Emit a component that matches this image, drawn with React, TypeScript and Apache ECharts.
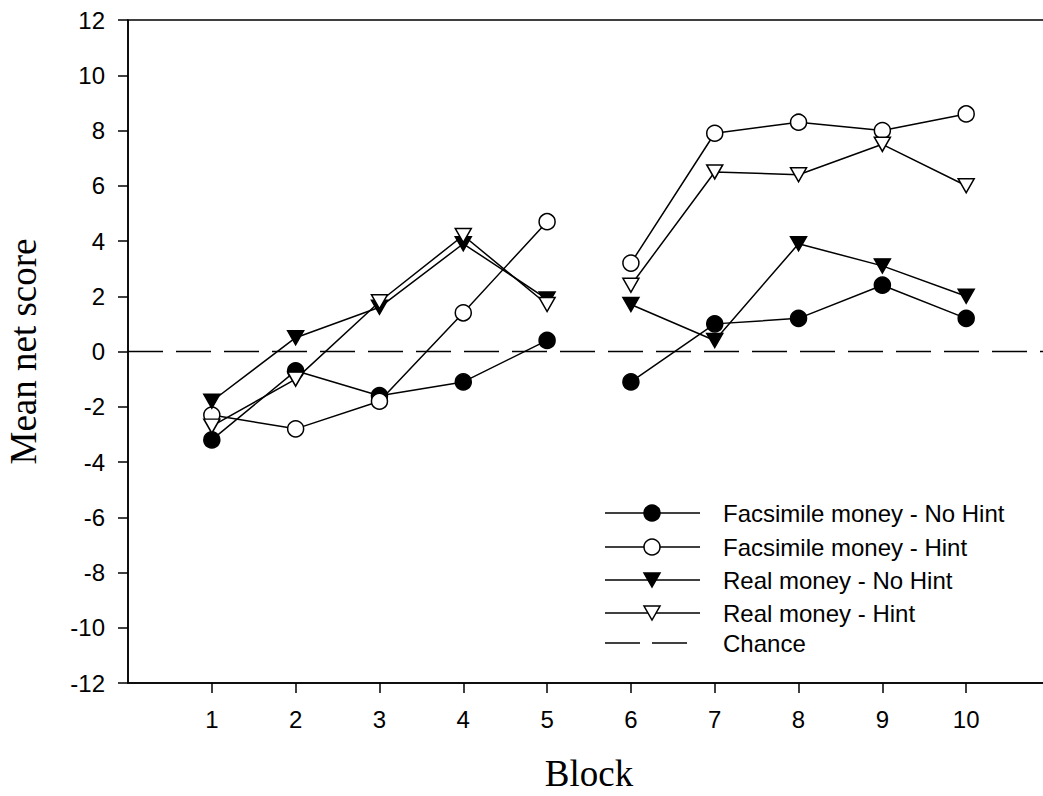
import React, { useEffect, useRef } from 'react';
import * as echarts from 'echarts';

const blocks = [1, 2, 3, 4, 5, 6, 7, 8, 9, 10];
const facsimileNoHint = [-3.2, -0.7, -1.6, -1.1, 0.4, -1.1, 1.0, 1.2, 2.4, 1.2];
const facsimileHint = [-2.3, -2.8, -1.8, 1.4, 4.7, 3.2, 7.9, 8.3, 8.0, 8.6];
const realNoHint = [-1.8, 0.5, 1.6, 3.9, 1.9, 1.7, 0.4, 3.9, 3.1, 2.0];
const realHint = [-2.7, -1.0, 1.8, 4.2, 1.7, 2.4, 6.5, 6.4, 7.5, 6.0];
const chanceLevel = 0;
const seriesNames = [
  'Facsimile money - No Hint',
  'Facsimile money - Hint',
  'Real money - No Hint',
  'Real money - Hint',
  'Chance',
];
const breakAfterBlock = 5;

const SANS = "'Liberation Sans', Arial, sans-serif";
const SERIF = "'Liberation Serif', 'Times New Roman', serif";

function withBreak(values: number[]) {
  const out: any[] = [];
  values.forEach((v, i) => {
    out.push([blocks[i], v]);
    if (blocks[i] === breakAfterBlock) out.push([blocks[i] + 0.5, '-']);
  });
  return out;
}

export default function App() {
  const ref = useRef<HTMLDivElement>(null);
  useEffect(() => {
    if (!ref.current) return;
    const chart = echarts.init(ref.current, null, { renderer: 'svg' });

    const mk = (name: string, values: number[], symbol: string, filled: boolean, rotate: number, size: any) => ({
      name,
      type: 'line',
      data: withBreak(values),
      connectNulls: false,
      symbol,
      symbolSize: size,
      symbolRotate: rotate,
      lineStyle: { color: '#000', width: 1.5 },
      itemStyle: { color: filled ? '#000' : '#fff', borderColor: '#000', borderWidth: 1.5 },
      z: 3,
    });

    // custom legend
    const lx0 = 605, lx1 = 700, lcx = 652, ltx = 723;
    const rows = [513, 547, 580, 613, 643];
    const legend: any[] = [];
    rows.forEach((y, i) => {
      if (i < 4) {
        legend.push({ type: 'line', shape: { x1: lx0, y1: y, x2: lx1, y2: y }, style: { stroke: '#000', lineWidth: 1.5 } });
        const filled = i === 0 || i === 2;
        if (i < 2) {
          legend.push({ type: 'circle', shape: { cx: lcx, cy: y, r: 8 }, style: { fill: filled ? '#000' : '#fff', stroke: '#000', lineWidth: 1.5 } });
        } else {
          legend.push({
            type: 'polygon',
            shape: { points: [[lcx - 8, y - 7], [lcx + 8, y - 7], [lcx, y + 7]] },
            style: { fill: filled ? '#000' : '#fff', stroke: '#000', lineWidth: 1.5 },
          });
        }
      } else {
        legend.push({ type: 'line', shape: { x1: lx0, y1: y, x2: lx0 + 35, y2: y }, style: { stroke: '#000', lineWidth: 1.5 } });
        legend.push({ type: 'line', shape: { x1: lx0 + 47, y1: y, x2: lx0 + 82, y2: y }, style: { stroke: '#000', lineWidth: 1.5 } });
      }
      legend.push({
        type: 'text',
        x: ltx,
        y,
        style: { text: seriesNames[i], fill: '#000', font: `24px ${SANS}`, verticalAlign: 'middle', align: 'left' },
      });
    });

    chart.setOption({
      animation: false,
      backgroundColor: '#fff',
      grid: {
        left: 128, right: -7, top: 20, bottom: 113,
        containLabel: false, outerBoundsMode: 'none',
        show: true, borderColor: '#000', borderWidth: 1.5, backgroundColor: 'transparent',
      },
      xAxis: {
        type: 'value',
        min: 0,
        max: 11,
        interval: 1,
        name: 'Block',
        nameLocation: 'middle',
        nameGap: 72,
        nameTextStyle: { fontFamily: SERIF, fontSize: 37, color: '#000' },
        axisLine: { show: true, onZero: false, lineStyle: { color: '#000', width: 1.5 } },
        axisTick: { show: true, length: 10, customValues: blocks, lineStyle: { color: '#000', width: 1.5 } },
        axisLabel: { customValues: blocks, margin: 24, fontFamily: SANS, fontSize: 24, color: '#000' },
        splitLine: { show: false },
      },
      yAxis: {
        type: 'value',
        min: -12,
        max: 12,
        interval: 2,
        name: 'Mean net score',
        nameLocation: 'middle',
        nameGap: 86,
        nameRotate: 90,
        nameTextStyle: { fontFamily: SERIF, fontSize: 37, color: '#000' },
        axisLine: { show: true, onZero: false, lineStyle: { color: '#000', width: 1.5 } },
        axisTick: { show: true, length: 10, lineStyle: { color: '#000', width: 1.5 } },
        axisLabel: { margin: 23, fontFamily: SANS, fontSize: 24, color: '#000' },
        splitLine: { show: false },
      },
      series: [
        {
          name: seriesNames[4],
          type: 'line',
          data: [[0, chanceLevel], [11, chanceLevel]],
          symbol: 'none',
          lineStyle: { color: '#000', width: 1.5, type: [35, 13] },
          z: 1,
        },
        mk(seriesNames[0], facsimileNoHint, 'circle', true, 0, 16),
        mk(seriesNames[1], facsimileHint, 'circle', false, 0, 16),
        mk(seriesNames[2], realNoHint, 'triangle', true, 180, [16, 14]),
        mk(seriesNames[3], realHint, 'triangle', false, 180, [16, 14]),
      ],
      graphic: legend,
    });
    return () => chart.dispose();
  }, []);
  return <div ref={ref} style={{ position: 'fixed', left: 0, top: 0, width: 1043, height: 796, background: '#fff' }} />;
}
